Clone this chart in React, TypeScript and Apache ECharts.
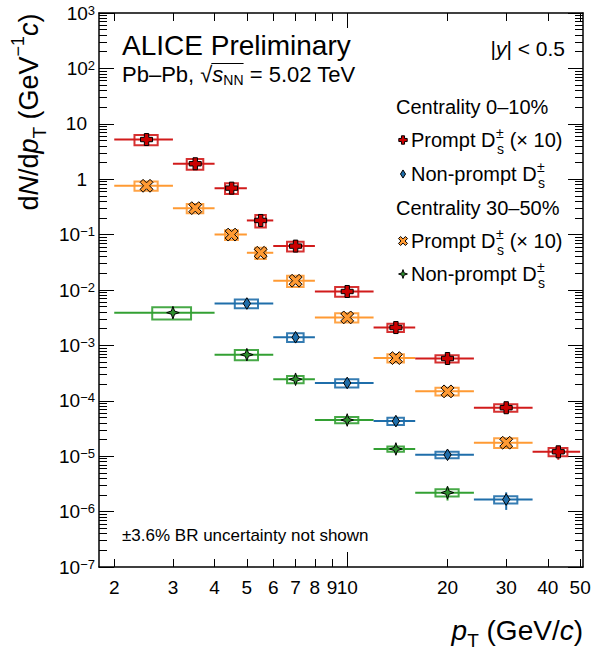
import React, { useEffect, useRef } from 'react';
import * as echarts from 'echarts';

const FONT = '"Liberation Sans", Arial, Helvetica, sans-serif';
const L = (v: number) => Math.log10(v);

// ---------- axes ----------
const X_MIN = 1.8;
const X_MAX = 51;
const xTickLabels = [2, 3, 4, 5, 6, 7, 8, 9, 10, 20, 30, 40, 50];
const xMajorTicks = [10];
const xMinorTicks = [2, 3, 4, 5, 6, 7, 8, 9, 20, 30, 40, 50];
const yDecades = [-7, -6, -5, -4, -3, -2, -1, 0, 1, 2, 3];
const yMinorMultipliers = [2, 3, 4, 5, 6, 7, 8, 9];

// ---------- data: prompt Ds, 0-10% (x10) ----------
const promptBinLo = [2, 3, 4, 5, 6, 8, 12, 16, 24, 36];
const promptBinHi = [3, 4, 5, 6, 8, 12, 16, 24, 36, 50];
const promptPt = [2.5, 3.5, 4.5, 5.5, 7, 10, 14, 20, 30, 43];
const prompt010 = [5.2, 1.9, 0.69, 0.18, 0.062, 0.0094, 0.0021, 5.8e-4, 7.5e-5, 1.2e-5];
const prompt010Stat = [0.05, 0.05, 0.06, 0.1, 0.08, 0.08, 0.1, 0.12, 0.15, 0.28];
const prompt010Syst = [0.21, 0.22, 0.22, 0.25, 0.2, 0.2, 0.17, 0.15, 0.15, 0.17];

// ---------- prompt Ds, 30-50% (x10) ----------
const prompt3050 = [0.76, 0.3, 0.1, 0.047, 0.0147, 0.0032, 5.9e-4, 1.48e-4, 1.75e-5];
const prompt3050Stat = [0.05, 0.05, 0.06, 0.08, 0.07, 0.08, 0.1, 0.12, 0.22];
const prompt3050Syst = [0.19, 0.19, 0.2, 0.23, 0.23, 0.19, 0.17, 0.16, 0.2];

// ---------- non-prompt Ds, 0-10% ----------
const np010BinLo = [4, 6, 8, 12, 16, 24];
const np010BinHi = [6, 8, 12, 16, 24, 36];
const np010Pt = [5, 7, 10, 14, 20, 30];
const nonPrompt010 = [5.7e-3, 1.4e-3, 2.1e-4, 4.3e-5, 1.06e-5, 1.65e-6];
const nonPrompt010Stat = [0.1, 0.1, 0.12, 0.15, 0.15, 0.35];
const nonPrompt010Syst = [0.18, 0.18, 0.17, 0.15, 0.13, 0.15];

// ---------- non-prompt Ds, 30-50% ----------
const np3050BinLo = [2, 4, 6, 8, 12, 16];
const np3050BinHi = [4, 6, 8, 12, 16, 24];
const np3050Pt = [3, 5, 7, 10, 14, 20];
const nonPrompt3050 = [3.9e-3, 6.8e-4, 2.45e-4, 4.5e-5, 1.35e-5, 2.2e-6];
const nonPrompt3050Stat = [0.1, 0.12, 0.1, 0.12, 0.15, 0.28];
const nonPrompt3050Syst = [0.25, 0.21, 0.15, 0.13, 0.11, 0.15];

const RED = '#d11b1b';
const ORANGE = '#ff9a33';
const BLUE = '#1f6eaa';
const GREEN = '#33a033';

// marker shapes (relative polygons)
const plusShape = (h: number, t: number) => [
  [-t, -h], [t, -h], [t, -t], [h, -t], [h, t], [t, t], [t, h], [-t, h], [-t, t], [-h, t], [-h, -t], [-t, -t],
];
const xShape = (h: number, t: number) =>
  plusShape(h, t).map(([x, y]) => [(x - y) / Math.SQRT2, (x + y) / Math.SQRT2]);
const diamondShape = (w: number, h: number) => [[0, -h], [w, 0], [0, h], [-w, 0]];
const starShape = (r: number, i: number) => [
  [0, -r], [i, -i], [r, 0], [i, i], [0, r], [-i, i], [-r, 0], [-i, -i],
];
const scalePts = (pts: number[][], s: number) => pts.map(([x, y]) => [x * s, y * s]);

function buildData(pt: number[], lo: number[], hi: number[], val: number[], stat: number[], syst: number[]) {
  return val.map((v, i) => {
    const bw = 0.2 * (hi[i] - lo[i]);
    return [
      L(pt[i]), L(v), L(lo[i]), L(hi[i]),
      L(v * (1 - stat[i])), L(v * (1 + stat[i])),
      L(pt[i] - bw), L(pt[i] + bw),
      L(v * (1 - syst[i])), L(v * (1 + syst[i])),
    ];
  });
}

function makeSeries(name: string, data: number[][], color: string, fill: string, marker: number[][]) {
  return {
    type: 'custom',
    name,
    xAxisIndex: 0,
    yAxisIndex: 0,
    clip: false,
    dimensions: ['x', 'y', 'lo', 'hi', 'sl', 'sh', 'bl', 'br', 'yl', 'yh'],
    encode: { x: 0, y: 1 },
    data,
    renderItem: (params: any, api: any) => {
      const v = (i: number) => api.value(i);
      const p = api.coord([v(0), v(1)]);
      const bL = api.coord([v(2), v(1)]);
      const bR = api.coord([v(3), v(1)]);
      const sLo = api.coord([v(0), v(4)]);
      const sHi = api.coord([v(0), v(5)]);
      const tl = api.coord([v(6), v(9)]);
      const br = api.coord([v(7), v(8)]);
      return {
        type: 'group',
        children: [
          { type: 'line', shape: { x1: bL[0], y1: bL[1], x2: bR[0], y2: bR[1] }, style: { stroke: color, lineWidth: 2 } },
          { type: 'line', shape: { x1: sLo[0], y1: sLo[1], x2: sHi[0], y2: sHi[1] }, style: { stroke: color, lineWidth: 2 } },
          {
            type: 'rect',
            shape: { x: tl[0], y: tl[1], width: br[0] - tl[0], height: br[1] - tl[1] },
            style: { fill: 'none', stroke: color, lineWidth: 2, opacity: 0.9 },
          },
          {
            type: 'polygon', x: p[0], y: p[1], shape: { points: marker },
            style: { fill, stroke: '#000', lineWidth: 1 },
          },
        ],
      };
    },
  };
}

export default function App() {
  const ref = useRef<HTMLDivElement>(null);
  useEffect(() => {
    document.body.style.margin = '0';
    const el = ref.current!;
    const chart = echarts.init(el, null, { renderer: 'svg' });
    const canvas = document.createElement('canvas');
    const ctx = canvas.getContext('2d')!;
    const tw = (t: string, size: number, italic = false) => {
      ctx.font = `${italic ? 'italic ' : ''}${size}px ${FONT}`;
      return ctx.measureText(t).width;
    };
    const txt = (x: number, y: number, text: string, size: number, italic = false, align = 'left') => ({
      type: 'text', x, y, silent: true,
      style: {
        text, fontSize: size, fontFamily: FONT, fontStyle: italic ? 'italic' : 'normal', fill: '#000',
        align, verticalAlign: 'middle', textAlign: align, textVerticalAlign: 'middle',
      },
    });
    const seq = (parts: [string, number, boolean, number][], x0: number, y0: number) => {
      let x = x0;
      const children: any[] = [];
      const pos: number[] = [];
      for (const [t, s, it, dy] of parts) {
        pos.push(x);
        children.push(txt(x, y0 + dy, t, s, it));
        x += tw(t, s, it);
      }
      return { children, width: x - x0, pos };
    };

    const MK_RED = plusShape(6, 2.2);
    const MK_ORANGE = xShape(7, 2.1);
    const MK_BLUE = diamondShape(3.6, 5.8);
    const MK_GREEN = starShape(6.3, 1.6);

    const graphics: any[] = [];
    graphics.push(txt(122, 45, 'ALICE Preliminary', 28));
    {
      const y = 74;
      const parts: [string, number, boolean, number][] = [
        ['Pb\u2013Pb, ', 22, false, 0],
        ['\u221A', 22, false, 0],
        ['s', 22, true, 0],
        ['NN', 14, false, 6],
        [' = 5.02 TeV', 22, false, 0],
      ];
      const s = seq(parts, 122, y);
      graphics.push(...s.children);
      const xs = s.pos[1] + tw('\u221A', 22) - 1;
      const xe = s.pos[4];
      graphics.push({ type: 'line', silent: true, shape: { x1: xs, y1: y - 10.5, x2: xe, y2: y - 10.5 }, style: { stroke: '#000', lineWidth: 1 } });
    }
    {
      const parts: [string, number, boolean, number][] = [
        ['|', 21, false, 0], ['y', 21, true, 0], ['| < 0.5', 21, false, 0],
      ];
      const w = parts.reduce((a, [t, s, it]) => a + tw(t, s, it), 0);
      graphics.push(...seq(parts, 565 - w, 48).children);
    }
    graphics.push(txt(396, 107, 'Centrality 0\u201310%', 20));
    graphics.push(txt(396, 208, 'Centrality 30\u201350%', 20));
    const dsRow = (y: number, prefix: string, suffix: string, mk: number[][], fill: string) => {
      graphics.push({ type: 'polygon', silent: true, x: 403, y, shape: { points: scalePts(mk, 0.7) }, style: { fill, stroke: '#000', lineWidth: 1 } });
      const x0 = 411;
      const w = tw(prefix, 20);
      graphics.push(txt(x0, y, prefix, 20));
      graphics.push(txt(x0 + w + 0.5, y - 7, '\u00B1', 14));
      graphics.push(txt(x0 + w + 1.5, y + 9, 's', 14));
      if (suffix) graphics.push(txt(x0 + w + tw('\u00B1', 14) + 1, y, suffix, 20));
    };
    dsRow(140, 'Prompt D', ' (\u00D7 10)', MK_RED, '#cc0000');
    dsRow(174, 'Non-prompt D', '', MK_BLUE, BLUE);
    dsRow(241, 'Prompt D', ' (\u00D7 10)', MK_ORANGE, ORANGE);
    dsRow(274, 'Non-prompt D', '', MK_GREEN, '#2d8f2d');
    graphics.push(txt(122, 535, '\u00B13.6% BR uncertainty not shown', 17));
    {
      const parts: [string, number, boolean, number][] = [
        ['p', 28, true, 0], ['T', 19, false, 10], [' (GeV/', 28, false, 0], ['c', 28, true, 0], [')', 28, false, 0],
      ];
      const w = parts.reduce((a, [t, s, it]) => a + tw(t, s, it), 0);
      graphics.push(...seq(parts, 583 - w, 630).children);
    }
    {
      const parts: [string, number, boolean, number][] = [
        ['d', 27, false, 0], ['N', 27, true, 0], ['/d', 27, false, 0], ['p', 27, true, 0], ['T', 19, false, 10],
        [' (GeV', 27, false, 0], ['\u22121', 18, false, -11], ['c', 27, true, 0], [')', 27, false, 0],
      ];
      const w = parts.reduce((a, [t, s, it]) => a + tw(t, s, it), 0);
      const s = seq(parts, -w / 2, 0);
      graphics.push({ type: 'group', x: 29, y: 112, rotation: Math.PI / 2, children: s.children });
    }

    const yMinor: number[] = [];
    yDecades.slice(0, -1).forEach((d) => yMinorMultipliers.forEach((m) => yMinor.push(d + L(m))));

    const tickStyle = { color: '#000', width: 1 };
    const lineStyle = { color: '#000', width: 1.5 };
    const xRange = { type: 'value', min: L(X_MIN), max: L(X_MAX), splitLine: { show: false } };
    const yRange = { type: 'value', min: -7, max: 3, splitLine: { show: false } };

    const option: any = {
      animation: false,
      grid: { left: 99, top: 13, right: 8, bottom: 85, containLabel: false, outerBoundsMode: 'none' },
      xAxis: [
        {
          ...xRange, position: 'bottom',
          axisLine: { show: true, onZero: false, lineStyle },
          axisTick: { show: true, inside: true, length: 15, customValues: xMajorTicks.map(L), lineStyle: tickStyle },
          axisLabel: {
            show: true, customValues: xTickLabels.map(L), showMinLabel: true, showMaxLabel: true,
            formatter: (v: number) => String(Math.round(Math.pow(10, v))),
            color: '#000', fontSize: 19, fontFamily: FONT, margin: 11,
          },
        },
        {
          ...xRange, position: 'bottom',
          axisLine: { show: false, onZero: false },
          axisTick: { show: true, inside: true, length: 8, customValues: xMinorTicks.map(L), lineStyle: tickStyle },
          axisLabel: { show: false },
        },
        {
          ...xRange, position: 'top',
          axisLine: { show: true, onZero: false, lineStyle },
          axisTick: { show: true, inside: true, length: 15, customValues: xMajorTicks.map(L), lineStyle: tickStyle },
          axisLabel: { show: false },
        },
        {
          ...xRange, position: 'top',
          axisLine: { show: false, onZero: false },
          axisTick: { show: true, inside: true, length: 8, customValues: xMinorTicks.map(L), lineStyle: tickStyle },
          axisLabel: { show: false },
        },
      ],
      yAxis: [
        {
          ...yRange, position: 'left',
          axisLine: { show: true, onZero: false, lineStyle },
          axisTick: { show: true, inside: true, length: 15, customValues: yDecades, lineStyle: tickStyle },
          axisLabel: {
            show: true, customValues: yDecades, showMinLabel: true, showMaxLabel: true, margin: 4,
            formatter: (v: number) => {
              const n = Math.round(v);
              if (n === 0) return '{p|1}';
              if (n === 1) return '{p|10}';
              return `{b|10}{s|${n < 0 ? '\u2212' : ''}${Math.abs(n)}}`;
            },
            rich: {
              p: { fontSize: 19, fontFamily: FONT, color: '#000', padding: [0, 8, 0, 0] },
              b: { fontSize: 19, fontFamily: FONT, color: '#000' },
              s: { fontSize: 13, fontFamily: FONT, color: '#000', verticalAlign: 'top' },
            },
          },
        },
        {
          ...yRange, position: 'left',
          axisLine: { show: false, onZero: false },
          axisTick: { show: true, inside: true, length: 8, customValues: yMinor, lineStyle: tickStyle },
          axisLabel: { show: false },
        },
        {
          ...yRange, position: 'right',
          axisLine: { show: true, onZero: false, lineStyle },
          axisTick: { show: true, inside: true, length: 15, customValues: yDecades, lineStyle: tickStyle },
          axisLabel: { show: false },
        },
        {
          ...yRange, position: 'right',
          axisLine: { show: false, onZero: false },
          axisTick: { show: true, inside: true, length: 8, customValues: yMinor, lineStyle: tickStyle },
          axisLabel: { show: false },
        },
      ],
      series: [
        makeSeries('Non-prompt 30-50%', buildData(np3050Pt, np3050BinLo, np3050BinHi, nonPrompt3050, nonPrompt3050Stat, nonPrompt3050Syst), GREEN, '#2d8f2d', MK_GREEN),
        makeSeries('Non-prompt 0-10%', buildData(np010Pt, np010BinLo, np010BinHi, nonPrompt010, nonPrompt010Stat, nonPrompt010Syst), BLUE, BLUE, MK_BLUE),
        makeSeries('Prompt 30-50%', buildData(promptPt.slice(0, 9), promptBinLo.slice(0, 9), promptBinHi.slice(0, 9), prompt3050, prompt3050Stat, prompt3050Syst), ORANGE, ORANGE, MK_ORANGE),
        makeSeries('Prompt 0-10%', buildData(promptPt, promptBinLo, promptBinHi, prompt010, prompt010Stat, prompt010Syst), RED, '#cc0000', MK_RED),
      ],
      graphic: { elements: graphics },
    };
    chart.setOption(option);
    return () => chart.dispose();
  }, []);
  return <div ref={ref} style={{ width: 591, height: 652 }} />;
}
